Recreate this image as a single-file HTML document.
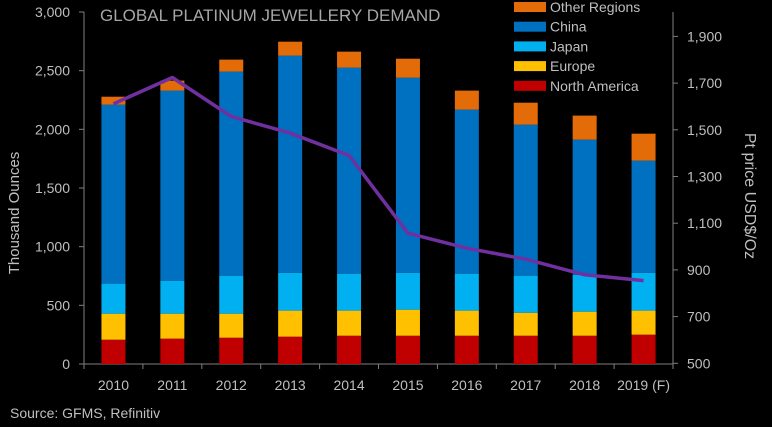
<!DOCTYPE html>
<html><head><meta charset="utf-8"><style>
html,body{margin:0;padding:0;background:#000;}
svg{display:block;font-family:"Liberation Sans",sans-serif;}
</style></head><body>
<svg id="chart" width="772" height="427">
<rect width="772" height="427" fill="#000"/>
<text x="100" y="21" fill="#a6a6a6" font-size="17">GLOBAL PLATINUM JEWELLERY DEMAND</text>
<text transform="translate(19,213) rotate(-90)" text-anchor="middle" fill="#bfbfbf" font-size="15">Thousand Ounces</text>
<text transform="translate(745,196) rotate(90)" text-anchor="middle" fill="#bfbfbf" font-size="16">Pt price USD$/Oz</text>
<text x="10" y="418" fill="#bfbfbf" font-size="14">Source: GFMS, Refinitiv</text>
<g id="axes"></g><g id="bars"></g><g id="line"></g><g id="legend"></g>
</svg>
<script>
const years=["2010","2011","2012","2013","2014","2015","2016","2017","2018","2019 (F)"];
const northAmerica=[207,216,224,233,241,241,241,241,241,250];
const europe=[222,213,205,222,214,222,214,196,205,205];
const japan=[256,281,324,323,315,315,315,316,314,323];
const china=[1525,1620,1739,1850,1756,1662,1398,1287,1152,955];
const otherRegions=[68,85,102,119,136,162,162,187,205,230];
const price=[1611,1724,1557,1486,1390,1057,993,946,879,854];
const leftTicks=[0,500,1000,1500,2000,2500,3000];
const rightTicks=[500,700,900,1100,1300,1500,1700,1900];

const NS="http://www.w3.org/2000/svg";
const X0=84,X1=673,Y0=364,Y1=12;
const step=(X1-X0)/years.length;
const bw=24;
function xc(i){return X0+step*(i+0.5);}
function yl(v){return Y0-(v/3000)*(Y0-Y1);}
function yr(v){return 363.3-(v-500)/200*46.7;}
function mk(tag,attrs,parent){const e=document.createElementNS(NS,tag);for(const k in attrs)e.setAttribute(k,attrs[k]);parent.appendChild(e);return e;}
const axes=document.getElementById('axes');
let a=mk('line',{x1:X0,y1:Y0,x2:X1,y2:Y0,stroke:'#7f7f7f'},axes);


a=mk('line',{x1:X0,y1:Y1,x2:X0,y2:Y0,stroke:'#7f7f7f'},axes);


a=mk('line',{x1:X1,y1:Y1,x2:X1,y2:Y0,stroke:'#7f7f7f'},axes);


leftTicks.forEach(v=>{
  mk('line',{x1:X0-5,y1:yl(v),x2:X0,y2:yl(v),stroke:'#7f7f7f'},axes);
  const t=mk('text',{x:X0-14,y:yl(v)+5,'text-anchor':'end',fill:'#bfbfbf','font-size':14},axes);
  t.textContent=v.toLocaleString('en-US');
  
  
});
rightTicks.forEach(v=>{
  mk('line',{x1:X1,y1:yr(v),x2:X1+5,y2:yr(v),stroke:'#7f7f7f'},axes);
  const t=mk('text',{x:X1+14,y:yr(v)+5,fill:'#bfbfbf','font-size':14},axes);
  t.textContent=v.toLocaleString('en-US');
  
  
});
for(let i=0;i<=years.length;i++){mk('line',{x1:X0+step*i,y1:Y0,x2:X0+step*i,y2:Y0+5,stroke:'#7f7f7f'},axes);}
years.forEach((y,i)=>{
  const t=mk('text',{x:xc(i),y:390,'text-anchor':'middle',fill:'#bfbfbf','font-size':14},axes);
  t.textContent=y;
  
  
});
const series=[["north-america",northAmerica,"#c00000"],["europe",europe,"#ffc000"],["japan",japan,"#00b0f0"],["china",china,"#0070c0"],["other-regions",otherRegions,"#e36c09"]];
const bars=document.getElementById('bars');
years.forEach((y,i)=>{
  let cum=0;
  series.forEach(s=>{
    const v=s[1][i];
    const r=mk('rect',{x:xc(i)-bw/2,y:yl(cum+v),width:bw,height:yl(cum)-yl(cum+v),fill:s[2]},bars);
    
    
    cum+=v;
  });
});
const pts=price.map((p,i)=>xc(i)+','+yr(p)).join(' ');
const pl=mk('polyline',{points:pts,fill:'none',stroke:'#7030a0','stroke-width':3.5,'stroke-linejoin':'round'},document.getElementById('line'));


const leg=document.getElementById('legend');
const legItems=[["Other Regions","#e36c09"],["China","#0070c0"],["Japan","#00b0f0"],["Europe","#ffc000"],["North America","#c00000"]];
legItems.forEach((it,k)=>{
  const yy=7+k*19.7;
  const g=mk('g',{},leg);
  
  
  mk('rect',{x:514,y:yy-5,width:32,height:10,fill:it[1]},g);
  const t=mk('text',{x:550,y:yy+5,fill:'#bfbfbf','font-size':14},g);
  t.textContent=it[0];
});
</script>
</body></html>
